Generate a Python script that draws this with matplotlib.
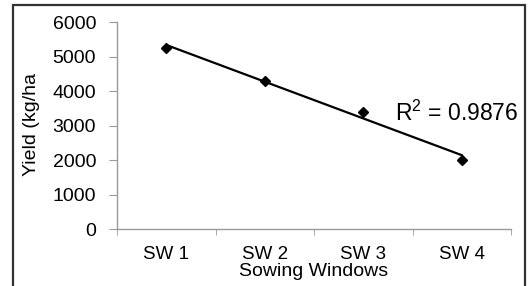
import numpy as np
import matplotlib
matplotlib.use("Agg")
import matplotlib.pyplot as plt
from matplotlib.patches import Rectangle

plt.rcParams['font.family'] = ['Liberation Sans', 'DejaVu Sans']
plt.rcParams['mathtext.fontset'] = 'custom'
plt.rcParams['mathtext.rm'] = 'Liberation Sans'

# data
windows = ['SW 1', 'SW 2', 'SW 3', 'SW 4']
yield_kg = [5250, 4300, 3400, 2000]
r2_text = 'R$^{2}$ = 0.9876'

x = np.arange(1, len(windows) + 1)

fig = plt.figure(figsize=(5.28, 2.86), dpi=100)
ax = fig.add_axes([117/528, 1 - 229/286, 394/528, 207/286])

# linear trend line
k, b = np.polyfit(x, yield_kg, 1)
ax.plot(x, k * x + b, color='black', lw=1.6, zorder=2)
ax.plot(x, yield_kg, ls='none', marker='D', ms=5.5, color='black', zorder=3)

ax.set_xlim(0.5, 4.5)
ax.set_ylim(0, 6000)
ax.set_yticks(range(0, 6001, 1000))
ax.set_xticks(x)
ax.set_xticklabels(windows)
ax.set_xticks(np.arange(0.5, 4.6, 1), minor=True)

grey = '#9a9a9a'
for s in ['top', 'right']:
    ax.spines[s].set_visible(False)
for s in ['left', 'bottom']:
    ax.spines[s].set_color(grey)
    ax.spines[s].set_linewidth(1)
ax.tick_params(axis='y', length=6, color=grey, pad=9, labelsize=14)
ax.tick_params(axis='x', which='major', length=0, pad=12, labelsize=13.5)
ax.tick_params(axis='x', which='minor', length=4, color=grey)

fig.text(395/528, 1 - 121/286, r2_text, fontsize=16.5, va='baseline', ha='left')
fig.text(31/528, 1 - 125/286, 'Yield (kg/ha', rotation=90, fontsize=14,
         ha='center', va='center')
fig.text(314/528, 1 - 276/286, 'Sowing Windows', fontsize=14,
         ha='center', va='baseline')

# outer frame around the chart
fig.patches.append(Rectangle((13/528, -0.1), 512/528, 1 - 5/286 + 0.1,
                             transform=fig.transFigure, fill=False,
                             edgecolor='#333333', lw=1.6))

fig.savefig('out.png', dpi=100)
